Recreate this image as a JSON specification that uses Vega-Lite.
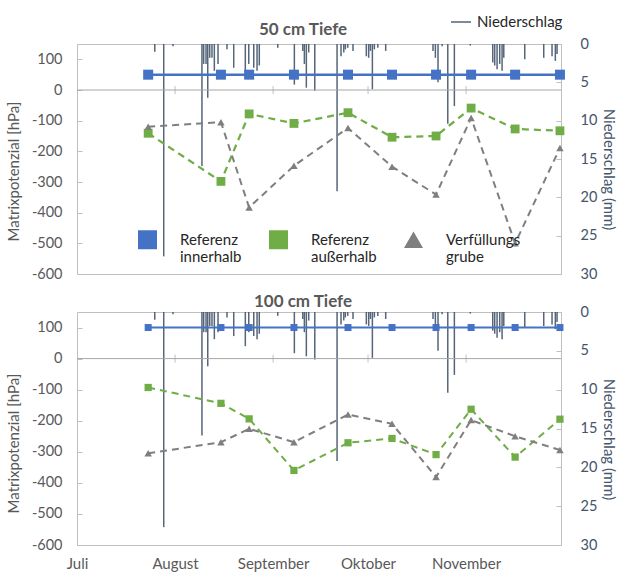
{
  "$schema": "https://vega.github.io/schema/vega-lite/v6.json",
  "background": "white",
  "padding": {"top": 10, "left": 5, "right": 0, "bottom": 0},
  "config": {
    "font": "Lato",
    "view": {"stroke": "#BFBFBF", "strokeWidth": 1},
    "axis": {"grid": false, "domain": false, "labelFont": "Lato", "titleFont": "Lato", "labelFontSize": 14.5, "titleFontSize": 15, "titleFontWeight": "normal", "tickColor": "#BFBFBF", "tickSize": -5, "labelOverlap": false},
    "legend": {"labelFont": "Lato", "labelFontSize": 15, "labelColor": "#262626"}
  },
  "datasets": {
    "rain": [
      {"date": "2021-07-25T14:00", "mm": 1.0},
      {"date": "2021-07-28T10:00", "mm": 27.7},
      {"date": "2021-07-31T08:00", "mm": 0.3},
      {"date": "2021-08-09T12:00", "mm": 15.9},
      {"date": "2021-08-10T01:00", "mm": 2.6},
      {"date": "2021-08-10T19:00", "mm": 2.6},
      {"date": "2021-08-11T08:00", "mm": 7.0},
      {"date": "2021-08-11T23:00", "mm": 1.8},
      {"date": "2021-08-12T16:00", "mm": 1.8},
      {"date": "2021-08-13T10:00", "mm": 3.5},
      {"date": "2021-08-14T14:00", "mm": 2.6},
      {"date": "2021-08-17T10:00", "mm": 0.7},
      {"date": "2021-08-19T13:00", "mm": 3.1},
      {"date": "2021-08-23T05:00", "mm": 4.4},
      {"date": "2021-08-24T07:00", "mm": 2.6},
      {"date": "2021-08-25T21:00", "mm": 3.1},
      {"date": "2021-08-26T22:00", "mm": 3.5},
      {"date": "2021-08-27T15:00", "mm": 2.8},
      {"date": "2021-09-02T11:00", "mm": 0.5},
      {"date": "2021-09-07T17:00", "mm": 5.3},
      {"date": "2021-09-10T09:00", "mm": 0.9},
      {"date": "2021-09-10T21:00", "mm": 2.6},
      {"date": "2021-09-11T12:00", "mm": 5.7},
      {"date": "2021-09-12T06:00", "mm": 1.1},
      {"date": "2021-09-14T04:00", "mm": 6.1},
      {"date": "2021-09-21T05:00", "mm": 19.2},
      {"date": "2021-09-22T11:00", "mm": 1.6},
      {"date": "2021-09-23T08:00", "mm": 1.1},
      {"date": "2021-09-23T20:00", "mm": 0.7},
      {"date": "2021-09-24T14:00", "mm": 0.5},
      {"date": "2021-09-26T06:00", "mm": 0.9},
      {"date": "2021-09-30T11:00", "mm": 1.6},
      {"date": "2021-10-01T05:00", "mm": 1.8},
      {"date": "2021-10-01T18:00", "mm": 0.9},
      {"date": "2021-10-02T09:00", "mm": 5.9},
      {"date": "2021-10-03T00:00", "mm": 0.7},
      {"date": "2021-10-04T02:00", "mm": 0.5},
      {"date": "2021-10-06T14:00", "mm": 0.9},
      {"date": "2021-10-21T13:00", "mm": 0.9},
      {"date": "2021-10-22T07:00", "mm": 1.8},
      {"date": "2021-10-23T03:00", "mm": 5.0},
      {"date": "2021-10-24T10:00", "mm": 0.3},
      {"date": "2021-10-26T05:00", "mm": 10.4},
      {"date": "2021-10-28T07:00", "mm": 8.1},
      {"date": "2021-11-02T08:00", "mm": 0.2},
      {"date": "2021-11-09T10:00", "mm": 2.4},
      {"date": "2021-11-10T01:00", "mm": 2.8},
      {"date": "2021-11-10T19:00", "mm": 3.3},
      {"date": "2021-11-11T15:00", "mm": 2.6},
      {"date": "2021-11-12T09:00", "mm": 3.5},
      {"date": "2021-11-12T22:00", "mm": 1.8},
      {"date": "2021-11-19T13:00", "mm": 2.0},
      {"date": "2021-11-25T13:00", "mm": 1.8},
      {"date": "2021-11-28T04:00", "mm": 1.6},
      {"date": "2021-11-29T05:00", "mm": 2.2},
      {"date": "2021-11-29T18:00", "mm": 1.3}
    ],
    "months": [
      {"date": "2021-08-01T00:00"},
      {"date": "2021-09-01T00:00"},
      {"date": "2021-10-01T00:00"},
      {"date": "2021-11-01T00:00"}
    ],
    "series": [
      {"panel": "50", "series": "Referenz innerhalb", "date": "2021-07-23T12:00", "value": 50},
      {"panel": "50", "series": "Referenz innerhalb", "date": "2021-08-15T12:00", "value": 50},
      {"panel": "50", "series": "Referenz innerhalb", "date": "2021-08-24T10:00", "value": 50},
      {"panel": "50", "series": "Referenz innerhalb", "date": "2021-09-07T14:00", "value": 50},
      {"panel": "50", "series": "Referenz innerhalb", "date": "2021-09-24T16:00", "value": 50},
      {"panel": "50", "series": "Referenz innerhalb", "date": "2021-10-08T14:00", "value": 50},
      {"panel": "50", "series": "Referenz innerhalb", "date": "2021-10-22T12:00", "value": 50},
      {"panel": "50", "series": "Referenz innerhalb", "date": "2021-11-02T14:00", "value": 50},
      {"panel": "50", "series": "Referenz innerhalb", "date": "2021-11-16T12:00", "value": 50},
      {"panel": "50", "series": "Referenz innerhalb", "date": "2021-11-30T16:00", "value": 50},
      {"panel": "50", "series": "Referenz außerhalb", "date": "2021-07-23T12:00", "value": -141},
      {"panel": "50", "series": "Referenz außerhalb", "date": "2021-08-15T12:00", "value": -298},
      {"panel": "50", "series": "Referenz außerhalb", "date": "2021-08-24T10:00", "value": -78},
      {"panel": "50", "series": "Referenz außerhalb", "date": "2021-09-07T14:00", "value": -109},
      {"panel": "50", "series": "Referenz außerhalb", "date": "2021-09-24T16:00", "value": -74},
      {"panel": "50", "series": "Referenz außerhalb", "date": "2021-10-08T14:00", "value": -154},
      {"panel": "50", "series": "Referenz außerhalb", "date": "2021-10-22T12:00", "value": -150},
      {"panel": "50", "series": "Referenz außerhalb", "date": "2021-11-02T14:00", "value": -59},
      {"panel": "50", "series": "Referenz außerhalb", "date": "2021-11-16T12:00", "value": -127},
      {"panel": "50", "series": "Referenz außerhalb", "date": "2021-11-30T16:00", "value": -133},
      {"panel": "50", "series": "Verfüllungsgrube", "date": "2021-07-23T12:00", "value": -120},
      {"panel": "50", "series": "Verfüllungsgrube", "date": "2021-08-15T12:00", "value": -105},
      {"panel": "50", "series": "Verfüllungsgrube", "date": "2021-08-24T10:00", "value": -383},
      {"panel": "50", "series": "Verfüllungsgrube", "date": "2021-09-07T14:00", "value": -247},
      {"panel": "50", "series": "Verfüllungsgrube", "date": "2021-09-24T16:00", "value": -124},
      {"panel": "50", "series": "Verfüllungsgrube", "date": "2021-10-08T14:00", "value": -250},
      {"panel": "50", "series": "Verfüllungsgrube", "date": "2021-10-22T12:00", "value": -341},
      {"panel": "50", "series": "Verfüllungsgrube", "date": "2021-11-02T14:00", "value": -91},
      {"panel": "50", "series": "Verfüllungsgrube", "date": "2021-11-16T12:00", "value": -500},
      {"panel": "50", "series": "Verfüllungsgrube", "date": "2021-11-30T16:00", "value": -189},
      {"panel": "100", "series": "Referenz innerhalb", "date": "2021-07-23T12:00", "value": 100},
      {"panel": "100", "series": "Referenz innerhalb", "date": "2021-08-15T12:00", "value": 100},
      {"panel": "100", "series": "Referenz innerhalb", "date": "2021-08-24T10:00", "value": 100},
      {"panel": "100", "series": "Referenz innerhalb", "date": "2021-09-07T14:00", "value": 100},
      {"panel": "100", "series": "Referenz innerhalb", "date": "2021-09-24T16:00", "value": 100},
      {"panel": "100", "series": "Referenz innerhalb", "date": "2021-10-08T14:00", "value": 100},
      {"panel": "100", "series": "Referenz innerhalb", "date": "2021-10-22T12:00", "value": 100},
      {"panel": "100", "series": "Referenz innerhalb", "date": "2021-11-02T14:00", "value": 100},
      {"panel": "100", "series": "Referenz innerhalb", "date": "2021-11-16T12:00", "value": 100},
      {"panel": "100", "series": "Referenz innerhalb", "date": "2021-11-30T16:00", "value": 100},
      {"panel": "100", "series": "Referenz außerhalb", "date": "2021-07-23T12:00", "value": -93},
      {"panel": "100", "series": "Referenz außerhalb", "date": "2021-08-15T12:00", "value": -144},
      {"panel": "100", "series": "Referenz außerhalb", "date": "2021-08-24T10:00", "value": -194},
      {"panel": "100", "series": "Referenz außerhalb", "date": "2021-09-07T14:00", "value": -360},
      {"panel": "100", "series": "Referenz außerhalb", "date": "2021-09-24T16:00", "value": -271},
      {"panel": "100", "series": "Referenz außerhalb", "date": "2021-10-08T14:00", "value": -257},
      {"panel": "100", "series": "Referenz außerhalb", "date": "2021-10-22T12:00", "value": -309},
      {"panel": "100", "series": "Referenz außerhalb", "date": "2021-11-02T14:00", "value": -163},
      {"panel": "100", "series": "Referenz außerhalb", "date": "2021-11-16T12:00", "value": -317},
      {"panel": "100", "series": "Referenz außerhalb", "date": "2021-11-30T16:00", "value": -195},
      {"panel": "100", "series": "Verfüllungsgrube", "date": "2021-07-23T12:00", "value": -305},
      {"panel": "100", "series": "Verfüllungsgrube", "date": "2021-08-15T12:00", "value": -269},
      {"panel": "100", "series": "Verfüllungsgrube", "date": "2021-08-24T10:00", "value": -226},
      {"panel": "100", "series": "Verfüllungsgrube", "date": "2021-09-07T14:00", "value": -269},
      {"panel": "100", "series": "Verfüllungsgrube", "date": "2021-09-24T16:00", "value": -180},
      {"panel": "100", "series": "Verfüllungsgrube", "date": "2021-10-08T14:00", "value": -210},
      {"panel": "100", "series": "Verfüllungsgrube", "date": "2021-10-22T12:00", "value": -381},
      {"panel": "100", "series": "Verfüllungsgrube", "date": "2021-11-02T14:00", "value": -198},
      {"panel": "100", "series": "Verfüllungsgrube", "date": "2021-11-16T12:00", "value": -250},
      {"panel": "100", "series": "Verfüllungsgrube", "date": "2021-11-30T16:00", "value": -294}
    ]
  },
  "spacing": 11,
  "resolve": {"scale": {"color": "independent", "stroke": "independent", "shape": "independent", "size": "independent", "strokeDash": "independent", "strokeWidth": "independent"}},
  "vconcat": [
    {
      "width": 484,
      "height": 230,
      "title": {"text": "50 cm Tiefe", "fontSize": 17, "fontWeight": "bold", "color": "#595959", "frame": "group", "dx": -16, "offset": -28},
      "layer": [
        {
          "data": {"name": "rain"},
          "mark": {"type": "rule", "strokeWidth": 1.5, "opacity": 0.9},
          "encoding": {
            "x": {"field": "date", "type": "temporal", "scale": {"domain": [{"year": 2021, "month": 7, "date": 1}, {"year": 2021, "month": 12, "date": 1}]}, "axis": null},
            "y": {"field": "mm", "type": "quantitative", "scale": {"domain": [0, 30], "reverse": true}, "axis": {"orient": "right", "values": [0, 5, 10, 15, 20, 25, 30], "labelOverlap": false, "title": "Niederschlag (mm)", "titleAngle": 90, "labelColor": "#44546A", "titleColor": "#44546A", "labelPadding": 24, "titlePadding": 4, "titleY": 125}},
            "y2": {"datum": 0},
            "color": {"datum": "Niederschlag", "scale": {"range": ["#44546A"]}, "legend": {"orient": "none", "legendX": 373, "legendY": -33, "title": null, "symbolType": "stroke", "symbolStrokeWidth": 1.5, "symbolSize": 400, "labelOffset": 5}}
          }
        },
        {
          "layer": [
            {
              "data": {"values": [{}]},
              "mark": {"type": "rule", "color": "#A6A6A6", "strokeWidth": 1},
              "encoding": {"y": {"datum": 0, "type": "quantitative", "scale": {"domain": [-600, 150], "nice": false}, "axis": {"values": [-600, -500, -400, -300, -200, -100, 0, 100], "labelOverlap": false, "labelExpr": "'' + datum.value", "title": "Matrixpotenzial [hPa]", "labelColor": "#595959", "titleColor": "#595959", "labelPadding": 20, "titlePadding": 10, "titleY": 127}}}
            },
            {
              "data": {"name": "months"},
              "mark": {"type": "tick", "orient": "vertical", "color": "#A6A6A6", "size": 8, "thickness": 1},
              "encoding": {
                "x": {"field": "date", "type": "temporal", "scale": {"domain": [{"year": 2021, "month": 7, "date": 1}, {"year": 2021, "month": 12, "date": 1}]}, "axis": null},
                "y": {"datum": 0, "type": "quantitative", "scale": {"domain": [-600, 150], "nice": false}, "axis": {"values": [-600, -500, -400, -300, -200, -100, 0, 100], "labelOverlap": false, "labelExpr": "'' + datum.value", "title": "Matrixpotenzial [hPa]", "labelColor": "#595959", "titleColor": "#595959", "labelPadding": 20, "titlePadding": 10, "titleY": 127}}
              }
            },
            {
              "data": {"name": "series"},
              "transform": [{"filter": "datum.panel == '50'"}],
              "mark": {"type": "line"},
              "encoding": {
                "x": {"field": "date", "type": "temporal", "scale": {"domain": [{"year": 2021, "month": 7, "date": 1}, {"year": 2021, "month": 12, "date": 1}]}, "axis": null},
                "y": {"field": "value", "type": "quantitative", "scale": {"domain": [-600, 150], "nice": false}, "axis": {"values": [-600, -500, -400, -300, -200, -100, 0, 100], "labelOverlap": false, "labelExpr": "'' + datum.value", "title": "Matrixpotenzial [hPa]", "labelColor": "#595959", "titleColor": "#595959", "labelPadding": 20, "titlePadding": 10, "titleY": 127}},
                "stroke": {"field": "series", "type": "nominal", "scale": {"domain": ["Referenz innerhalb", "Referenz außerhalb", "Verfüllungsgrube"], "range": ["#4472C4", "#70AD47", "#7F7F7F"]}, "legend": null},
                "strokeDash": {"field": "series", "type": "nominal", "scale": {"domain": ["Referenz innerhalb", "Referenz außerhalb", "Verfüllungsgrube"], "range": [[1, 0], [7, 5], [7, 5]]}, "legend": null},
                "strokeWidth": {"field": "series", "type": "nominal", "scale": {"domain": ["Referenz innerhalb", "Referenz außerhalb", "Verfüllungsgrube"], "range": [2.5, 2, 2]}, "legend": null}
              }
            },
            {
              "data": {"name": "series"},
              "transform": [{"filter": "datum.panel == '50'"}],
              "mark": {"type": "point", "filled": true, "opacity": 1},
              "encoding": {
                "x": {"field": "date", "type": "temporal", "scale": {"domain": [{"year": 2021, "month": 7, "date": 1}, {"year": 2021, "month": 12, "date": 1}]}, "axis": null},
                "y": {"field": "value", "type": "quantitative", "scale": {"domain": [-600, 150], "nice": false}, "axis": {"values": [-600, -500, -400, -300, -200, -100, 0, 100], "labelOverlap": false, "labelExpr": "'' + datum.value", "title": "Matrixpotenzial [hPa]", "labelColor": "#595959", "titleColor": "#595959", "labelPadding": 20, "titlePadding": 10, "titleY": 127}},
                "color": {"field": "series", "type": "nominal", "scale": {"domain": ["Referenz innerhalb", "Referenz außerhalb", "Verfüllungsgrube"], "range": ["#4472C4", "#70AD47", "#7F7F7F"]}, "legend": {"orient": "none", "legendX": 61, "legendY": 186, "direction": "horizontal", "title": null, "symbolSize": 361, "symbolStrokeWidth": 0, "labelOffset": 23, "columnPadding": 27, "labelExpr": "datum.label == 'Verfüllungsgrube' ? ['Verfüllungs', 'grube'] : split(datum.label, ' ')"}},
                "shape": {"field": "series", "type": "nominal", "scale": {"domain": ["Referenz innerhalb", "Referenz außerhalb", "Verfüllungsgrube"], "range": ["square", "square", "triangle-up"]}, "legend": {"orient": "none", "legendX": 61, "legendY": 186, "direction": "horizontal", "title": null, "symbolSize": 361, "symbolStrokeWidth": 0, "labelOffset": 23, "columnPadding": 27, "labelExpr": "datum.label == 'Verfüllungsgrube' ? ['Verfüllungs', 'grube'] : split(datum.label, ' ')"}},
                "size": {"field": "series", "type": "nominal", "scale": {"domain": ["Referenz innerhalb", "Referenz außerhalb", "Verfüllungsgrube"], "range": [100, 56, 100]}, "legend": null}
              }
            }
          ]
        }
      ],
      "resolve": {"scale": {"y": "independent", "color": "independent", "shape": "independent"}}
    },
    {
      "width": 484,
      "height": 233,
      "title": {"text": "100 cm Tiefe", "fontSize": 17, "fontWeight": "bold", "color": "#595959", "frame": "group", "dx": -16, "offset": -7},
      "layer": [
        {
          "data": {"name": "rain"},
          "mark": {"type": "rule", "strokeWidth": 1.5, "opacity": 0.9, "color": "#44546A"},
          "encoding": {
            "x": {"field": "date", "type": "temporal", "scale": {"domain": [{"year": 2021, "month": 7, "date": 1}, {"year": 2021, "month": 12, "date": 1}]}, "axis": {"values": [{"year": 2021, "month": 7, "date": 1}, {"year": 2021, "month": 8, "date": 1}, {"year": 2021, "month": 9, "date": 1}, {"year": 2021, "month": 10, "date": 1}, {"year": 2021, "month": 11, "date": 1}], "labelExpr": "['Januar','Februar','März','April','Mai','Juni','Juli','August','September','Oktober','November','Dezember'][month(datum.value)]", "ticks": false, "labelPadding": 11, "labelFontSize": 15, "labelColor": "#595959", "title": null, "labelFlush": false}},
            "y": {"field": "mm", "type": "quantitative", "scale": {"domain": [0, 30], "reverse": true}, "axis": {"orient": "right", "values": [0, 5, 10, 15, 20, 25, 30], "labelOverlap": false, "title": "Niederschlag (mm)", "titleAngle": 90, "labelColor": "#44546A", "titleColor": "#44546A", "labelPadding": 24, "titlePadding": 4, "titleY": 127}},
            "y2": {"datum": 0}
          }
        },
        {
          "layer": [
            {
              "data": {"values": [{}]},
              "mark": {"type": "rule", "color": "#A6A6A6", "strokeWidth": 1},
              "encoding": {"y": {"datum": 0, "type": "quantitative", "scale": {"domain": [-600, 150], "nice": false}, "axis": {"values": [-600, -500, -400, -300, -200, -100, 0, 100], "labelOverlap": false, "labelExpr": "'' + datum.value", "title": "Matrixpotenzial [hPa]", "labelColor": "#595959", "titleColor": "#595959", "labelPadding": 20, "titlePadding": 10, "titleY": 131}}}
            },
            {
              "data": {"name": "months"},
              "mark": {"type": "tick", "orient": "vertical", "color": "#A6A6A6", "size": 8, "thickness": 1},
              "encoding": {
                "x": {"field": "date", "type": "temporal"},
                "y": {"datum": 0, "type": "quantitative", "scale": {"domain": [-600, 150], "nice": false}, "axis": {"values": [-600, -500, -400, -300, -200, -100, 0, 100], "labelOverlap": false, "labelExpr": "'' + datum.value", "title": "Matrixpotenzial [hPa]", "labelColor": "#595959", "titleColor": "#595959", "labelPadding": 20, "titlePadding": 10, "titleY": 131}}
              }
            },
            {
              "data": {"name": "series"},
              "transform": [{"filter": "datum.panel == '100'"}],
              "mark": {"type": "line"},
              "encoding": {
                "x": {"field": "date", "type": "temporal"},
                "y": {"field": "value", "type": "quantitative", "scale": {"domain": [-600, 150], "nice": false}, "axis": {"values": [-600, -500, -400, -300, -200, -100, 0, 100], "labelOverlap": false, "labelExpr": "'' + datum.value", "title": "Matrixpotenzial [hPa]", "labelColor": "#595959", "titleColor": "#595959", "labelPadding": 20, "titlePadding": 10, "titleY": 131}},
                "stroke": {"field": "series", "type": "nominal", "scale": {"domain": ["Referenz innerhalb", "Referenz außerhalb", "Verfüllungsgrube"], "range": ["#4472C4", "#70AD47", "#7F7F7F"]}, "legend": null},
                "strokeDash": {"field": "series", "type": "nominal", "scale": {"domain": ["Referenz innerhalb", "Referenz außerhalb", "Verfüllungsgrube"], "range": [[1, 0], [7, 5], [7, 5]]}, "legend": null},
                "strokeWidth": {"field": "series", "type": "nominal", "scale": {"domain": ["Referenz innerhalb", "Referenz außerhalb", "Verfüllungsgrube"], "range": [2, 2, 2]}, "legend": null}
              }
            },
            {
              "data": {"name": "series"},
              "transform": [{"filter": "datum.panel == '100'"}],
              "mark": {"type": "point", "filled": true, "opacity": 1},
              "encoding": {
                "x": {"field": "date", "type": "temporal"},
                "y": {"field": "value", "type": "quantitative", "scale": {"domain": [-600, 150], "nice": false}, "axis": {"values": [-600, -500, -400, -300, -200, -100, 0, 100], "labelOverlap": false, "labelExpr": "'' + datum.value", "title": "Matrixpotenzial [hPa]", "labelColor": "#595959", "titleColor": "#595959", "labelPadding": 20, "titlePadding": 10, "titleY": 131}},
                "color": {"field": "series", "type": "nominal", "scale": {"domain": ["Referenz innerhalb", "Referenz außerhalb", "Verfüllungsgrube"], "range": ["#4472C4", "#70AD47", "#7F7F7F"]}, "legend": null},
                "shape": {"field": "series", "type": "nominal", "scale": {"domain": ["Referenz innerhalb", "Referenz außerhalb", "Verfüllungsgrube"], "range": ["square", "square", "triangle-up"]}, "legend": null},
                "size": {"field": "series", "type": "nominal", "scale": {"domain": ["Referenz innerhalb", "Referenz außerhalb", "Verfüllungsgrube"], "range": [49, 56, 80]}, "legend": null}
              }
            }
          ]
        }
      ],
      "resolve": {"scale": {"y": "independent", "color": "independent", "shape": "independent", "size": "independent"}}
    }
  ]
}
